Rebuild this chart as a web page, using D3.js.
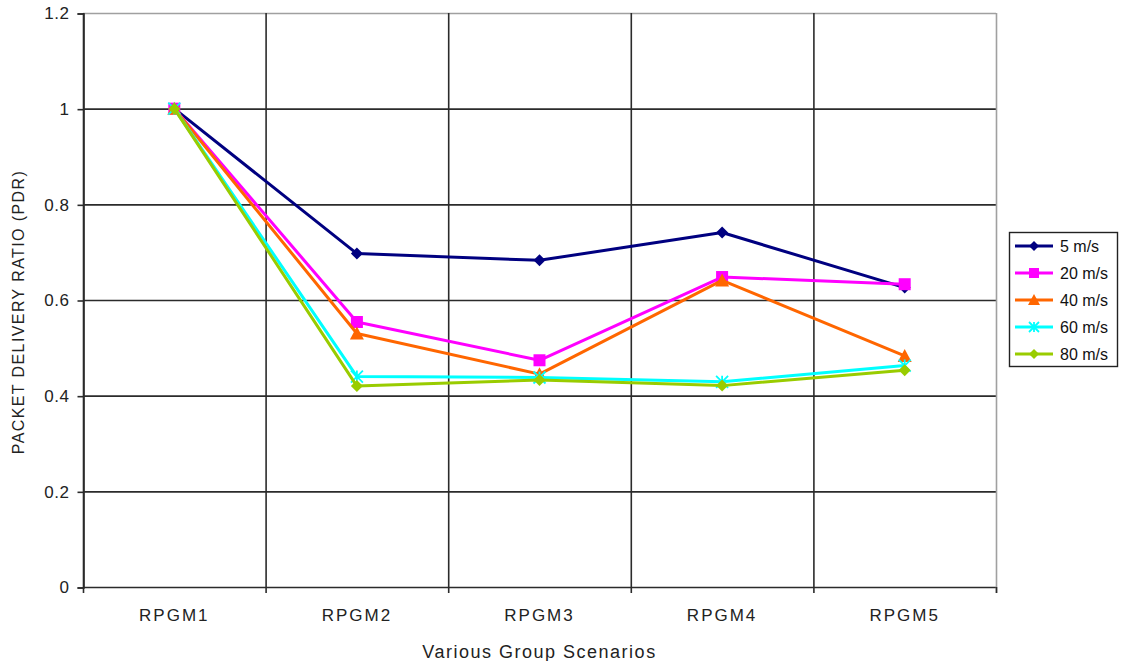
<!DOCTYPE html>
<html>
<head>
<meta charset="utf-8">
<script src="https://cdn.jsdelivr.net/npm/d3@7"></script>
<style>
  html, body { margin: 0; padding: 0; background: #fff; }
  svg { display: block; font-family: "Liberation Sans", Arial, sans-serif; }
</style>
</head>
<body>
<svg id="chart" width="1126" height="661"></svg>
<script>
// Scenario categories along the x axis
const categories = ["RPGM1", "RPGM2", "RPGM3", "RPGM4", "RPGM5"];

// Packet delivery ratio per node speed
const speeds = ["5 m/s", "20 m/s", "40 m/s", "60 m/s", "80 m/s"];
const pdr5  = [1.0, 0.697, 0.683, 0.741, 0.626];
const pdr20 = [1.0, 0.554, 0.474, 0.648, 0.633];
const pdr40 = [1.0, 0.530, 0.445, 0.641, 0.483];
const pdr60 = [1.0, 0.440, 0.438, 0.429, 0.463];
const pdr80 = [1.0, 0.420, 0.433, 0.421, 0.453];

// Y axis tick values and labels
const yTicks = [0, 0.2, 0.4, 0.6, 0.8, 1, 1.2];
const yTickLabels = ["0", "0.2", "0.4", "0.6", "0.8", "1", "1.2"];

const seriesValues = [pdr5, pdr20, pdr40, pdr60, pdr80];
const colors = ["#000080", "#ff00ff", "#ff6600", "#00ffff", "#99cc00"];
const shapes = ["diamond", "square", "triangle", "cross", "diamond"];

const svg = d3.select("#chart");
const margin = { left: 83, right: 130, top: 13, bottom: 74 };
const W = 1126, H = 661;
const x0 = margin.left, x1 = W - margin.right, y0 = H - margin.bottom, y1 = margin.top;

const x = d3.scaleBand().domain(categories).range([x0, x1]).padding(0);
const y = d3.scaleLinear().domain([0, 1.2]).range([y0, y1]);

// Horizontal gridlines
svg.append("g").selectAll("line").data(yTicks).join("line")
  .attr("x1", x0).attr("x2", x1)
  .attr("y1", d => y(d) + 0.5).attr("y2", d => y(d) + 0.5)
  .attr("stroke", d => d === 1.2 ? "#a0a0a0" : "#2b2b2b")
  .attr("stroke-width", 1.6);

// Vertical gridlines at category boundaries
const bounds = categories.map(c => x(c)).concat([x1]);
svg.append("g").selectAll("line").data(bounds).join("line")
  .attr("x1", d => d + 0.5).attr("x2", d => d + 0.5)
  .attr("y1", y1).attr("y2", y0 + 6)
  .attr("stroke", (d, i) => i === bounds.length - 1 ? "#a0a0a0" : "#2b2b2b")
  .attr("stroke-width", 1.6);

// Last tick below the right border
svg.append("line")
  .attr("x1", x1 + 0.5).attr("x2", x1 + 0.5).attr("y1", y0).attr("y2", y0 + 6)
  .attr("stroke", "#2b2b2b").attr("stroke-width", 1.6);

// Y axis
const yAxis = d3.axisLeft(y).tickValues(yTicks)
  .tickFormat((d, i) => yTickLabels[i]).tickSize(6).tickPadding(8);
const gy = svg.append("g").attr("transform", `translate(${x0 + 0.5},0.5)`).call(yAxis);
gy.select(".domain").attr("stroke", "#2b2b2b").attr("stroke-width", 1.6);
gy.selectAll(".tick line").attr("stroke", "#2b2b2b").attr("stroke-width", 1.6);
gy.selectAll(".tick text").attr("font-size", 17).attr("fill", "#222")
  .attr("letter-spacing", "0.5px")
  .attr("font-family", "Liberation Sans, Arial, sans-serif");

// X axis labels
const xAxis = d3.axisBottom(x).tickSize(0).tickPadding(22);
const gx = svg.append("g").attr("transform", `translate(0,${y0})`).call(xAxis);
gx.select(".domain").remove();
gx.selectAll(".tick text").attr("font-size", 17).attr("fill", "#222")
  .attr("letter-spacing", "2px")
  .attr("font-family", "Liberation Sans, Arial, sans-serif");

// Axis titles
svg.append("text")
  .attr("x", (x0 + x1) / 2).attr("y", 658)
  .attr("text-anchor", "middle").attr("font-size", 18).attr("fill", "#222")
  .attr("letter-spacing", "1.5px")
  .text("Various Group Scenarios");

svg.append("text")
  .attr("transform", `translate(24,${(y0 + y1) / 2 + 12}) rotate(-90)`)
  .attr("text-anchor", "middle").attr("font-size", 16).attr("fill", "#222")
  .attr("letter-spacing", "1.4px")
  .text("PACKET DELIVERY RATIO (PDR)");

// Marker drawing
function marker(g, shape, color, cx, cy, s) {
  if (shape === "diamond") {
    g.append("path").attr("d", `M${cx},${cy - s}L${cx + s},${cy}L${cx},${cy + s}L${cx - s},${cy}Z`)
      .attr("fill", color);
  } else if (shape === "square") {
    g.append("rect").attr("x", cx - s).attr("y", cy - s).attr("width", 2 * s).attr("height", 2 * s)
      .attr("fill", color);
  } else if (shape === "triangle") {
    g.append("path").attr("d", `M${cx},${cy - s - 1}L${cx + s + 1},${cy + s}L${cx - s - 1},${cy + s}Z`)
      .attr("fill", color);
  } else {
    g.append("path").attr("d", `M${cx - s},${cy - s}L${cx + s},${cy + s}M${cx - s},${cy + s}L${cx + s},${cy - s}M${cx},${cy - s}L${cx},${cy + s}`)
      .attr("stroke", color).attr("stroke-width", 1.8).attr("fill", "none");
  }
}

const line = d3.line()
  .x((d, i) => x(categories[i]) + x.bandwidth() / 2)
  .y(d => y(d));

seriesValues.forEach((vals, k) => {
  const g = svg.append("g");
  g.append("path").datum(vals).attr("d", line)
    .attr("fill", "none").attr("stroke", colors[k]).attr("stroke-width", 3)
    .attr("stroke-linejoin", "round");
  vals.forEach((v, i) => {
    marker(g, shapes[k], colors[k], x(categories[i]) + x.bandwidth() / 2, y(v), 6);
  });
});

// Legend
const lg = svg.append("g");
lg.append("rect").attr("x", 1009.5).attr("y", 232.5).attr("width", 108).attr("height", 134)
  .attr("fill", "#fff").attr("stroke", "#222").attr("stroke-width", 1.4);
speeds.forEach((name, k) => {
  const ly = 246 + k * 27;
  lg.append("line").attr("x1", 1015).attr("x2", 1053).attr("y1", ly).attr("y2", ly)
    .attr("stroke", colors[k]).attr("stroke-width", 3);
  marker(lg, shapes[k], colors[k], 1034, ly, 5);
  lg.append("text").attr("x", 1060).attr("y", ly + 6)
    .attr("font-size", 16).attr("fill", "#111").text(name);
});
</script>
</body>
</html>
